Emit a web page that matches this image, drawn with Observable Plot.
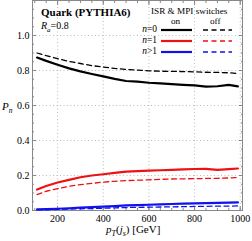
<!DOCTYPE html>
<html><head><meta charset="utf-8">
<script src="https://cdn.jsdelivr.net/npm/d3@7"></script>
<script src="https://cdn.jsdelivr.net/npm/@observablehq/plot@0.6"></script>
<style>
html,body{margin:0;padding:0;background:#fff;}
#wrap{position:relative;width:252px;height:241px;font-family:"Liberation Serif","DejaVu Serif",serif;}
#wrap svg{font-family:"Liberation Serif",serif;}
.ov{position:absolute;white-space:nowrap;line-height:1;color:#000;}
</style></head><body>
<div id="wrap"></div>
<script>
const pt = [110,150,200,250,300,350,400,450,500,550,600,650,700,750,800,850,900,950,990];
const n0on  = [0.874,0.855,0.833,0.812,0.795,0.780,0.766,0.752,0.740,0.736,0.730,0.726,0.722,0.718,0.715,0.708,0.710,0.718,0.709];
const n0off = [0.900,0.885,0.868,0.852,0.840,0.828,0.820,0.812,0.806,0.802,0.798,0.796,0.795,0.794,0.792,0.790,0.789,0.787,0.783];
const n1on  = [0.120,0.140,0.160,0.175,0.190,0.200,0.207,0.215,0.222,0.225,0.228,0.230,0.232,0.235,0.237,0.238,0.232,0.236,0.240];
const n1off = [0.091,0.110,0.125,0.138,0.148,0.155,0.162,0.167,0.171,0.173,0.175,0.178,0.180,0.181,0.182,0.183,0.184,0.186,0.189];
const n2on  = [0.006,0.008,0.010,0.013,0.016,0.019,0.022,0.025,0.029,0.031,0.033,0.035,0.037,0.039,0.041,0.042,0.044,0.045,0.046];
const n2off = [0.003,0.004,0.006,0.008,0.010,0.011,0.013,0.015,0.017,0.018,0.019,0.020,0.021,0.022,0.023,0.024,0.025,0.025,0.026];
const seriesNames = ["n=0","n=1","n>1"];
const seriesColors = ["#000000","#ee1111","#1111ee"];
const xTicks = [200,400,600,800,1000];
const yTicks = [0.0,0.2,0.4,0.6,0.8,1.0];
const xMinor = d3.range(100,1001,50);
const yMinor = d3.range(0,1.2001,0.05);

const onArr = [n0on,n1on,n2on], offArr = [n0off,n1off,n2off];
const rows = [];
seriesNames.forEach((s,i)=>{
  pt.forEach((x,j)=>{
    rows.push({x, y:onArr[i][j], s, mode:"on", color:seriesColors[i]});
    rows.push({x, y:offArr[i][j], s, mode:"off", color:seriesColors[i]});
  });
});
const on = rows.filter(d=>d.mode==="on"), off = rows.filter(d=>d.mode==="off");
const blank = ()=>"";

const chart = Plot.plot({
  width:252, height:241,
  marginLeft:32, marginRight:10, marginTop:0, marginBottom:31,
  style:{fontFamily:"Liberation Serif, serif", fontSize:"10px", background:"#fff", color:"#000"},
  x:{domain:[90,1010]},
  y:{domain:[0,1.2]},
  marks:[
    Plot.gridX(xTicks,{stroke:"#bbb",strokeOpacity:1,strokeDasharray:"1,2.5"}),
    Plot.gridY(yTicks,{stroke:"#bbb",strokeOpacity:1,strokeDasharray:"1,2.5"}),
    Plot.frame({stroke:"#888"}),
    Plot.axisX(xMinor,{anchor:"bottom",tickSize:-2,label:null,tickFormat:blank,stroke:"#888"}),
    Plot.axisX(xMinor,{anchor:"top",tickSize:-2,label:null,tickFormat:blank,stroke:"#888"}),
    Plot.axisX(xTicks,{anchor:"bottom",tickSize:-4,label:null,tickFormat:blank,stroke:"#888"}),
    Plot.axisX(xTicks,{anchor:"top",tickSize:-4,label:null,tickFormat:blank,stroke:"#888"}),
    Plot.axisX(xTicks,{anchor:"bottom",tickSize:0,label:null,tickPadding:4,fill:"#000",tickFormat:d=>String(d)}),
    Plot.axisY(yMinor,{anchor:"left",tickSize:-2,label:null,tickFormat:blank,stroke:"#888"}),
    Plot.axisY(yMinor,{anchor:"right",tickSize:-2,label:null,tickFormat:blank,stroke:"#888"}),
    Plot.axisY(yTicks,{anchor:"left",tickSize:-4,label:null,tickFormat:blank,stroke:"#888"}),
    Plot.axisY(yTicks,{anchor:"right",tickSize:-4,label:null,tickFormat:blank,stroke:"#888"}),
    Plot.axisY(yTicks,{anchor:"left",tickSize:0,label:null,tickPadding:3,fill:"#000",tickFormat:d=>d.toFixed(1)}),
    Plot.line(off,{x:"x",y:"y",z:"s",stroke:"color",strokeWidth:1.3,strokeDasharray:"5,3.5",curve:"linear"}),
    Plot.line(on,{x:"x",y:"y",z:"s",stroke:"color",strokeWidth:2.2,curve:"linear"})
  ]
});
const wrap = document.getElementById("wrap");
wrap.appendChild(chart);

function addText(html, left, top, extra){
  const d = document.createElement("div");
  d.className="ov"; d.innerHTML=html;
  d.style.left=left+"px"; d.style.top=top+"px";
  if(extra) Object.assign(d.style, extra);
  wrap.appendChild(d);
  return d;
}
addText("Quark (PYTHIA6)", 41, 7, {fontWeight:"bold", fontSize:"11px"});
addText("<i>R</i><sub style='font-size:7px'><i>a</i></sub>=0.8", 41, 21, {fontSize:"10px"});
addText("<i>P</i><sub style='font-size:7.5px'><i>n</i></sub>", 2, 101, {fontSize:"11px"});
addText("<i>p</i><sub style='font-size:8px'><i>T</i></sub>(<i>j</i><sub style='font-size:8px'><i>s</i></sub>) [GeV]", 106, 224, {fontSize:"11px"});

// legend
addText("ISR &amp; MPI switches", 151, 7, {fontSize:"9.2px"});
addText("on", 171, 17, {fontSize:"9.2px"});
addText("off", 210, 17, {fontSize:"9.2px"});
const legRowY = [30,41,52];
const ns = "http://www.w3.org/2000/svg";
const lsvg = document.createElementNS(ns,"svg");
lsvg.setAttribute("width",252); lsvg.setAttribute("height",241);
lsvg.style.position="absolute"; lsvg.style.left="0"; lsvg.style.top="0";
seriesNames.forEach((s,i)=>{
  const y = legRowY[i];
  const l1 = document.createElementNS(ns,"line");
  l1.setAttribute("x1",161); l1.setAttribute("x2",192); l1.setAttribute("y1",y); l1.setAttribute("y2",y);
  l1.setAttribute("stroke",seriesColors[i]); l1.setAttribute("stroke-width",2.2);
  lsvg.appendChild(l1);
  const l2 = document.createElementNS(ns,"line");
  l2.setAttribute("x1",203); l2.setAttribute("x2",232); l2.setAttribute("y1",y); l2.setAttribute("y2",y);
  l2.setAttribute("stroke",seriesColors[i]); l2.setAttribute("stroke-width",1.3); l2.setAttribute("stroke-dasharray","5,3.5");
  lsvg.appendChild(l2);
  const label = s.replace("n","<i>n</i>");
  addText(label, 0, y-5, {fontSize:"9.5px", width:"157px", textAlign:"right"});
});
wrap.appendChild(lsvg);
</script>
</body></html>
